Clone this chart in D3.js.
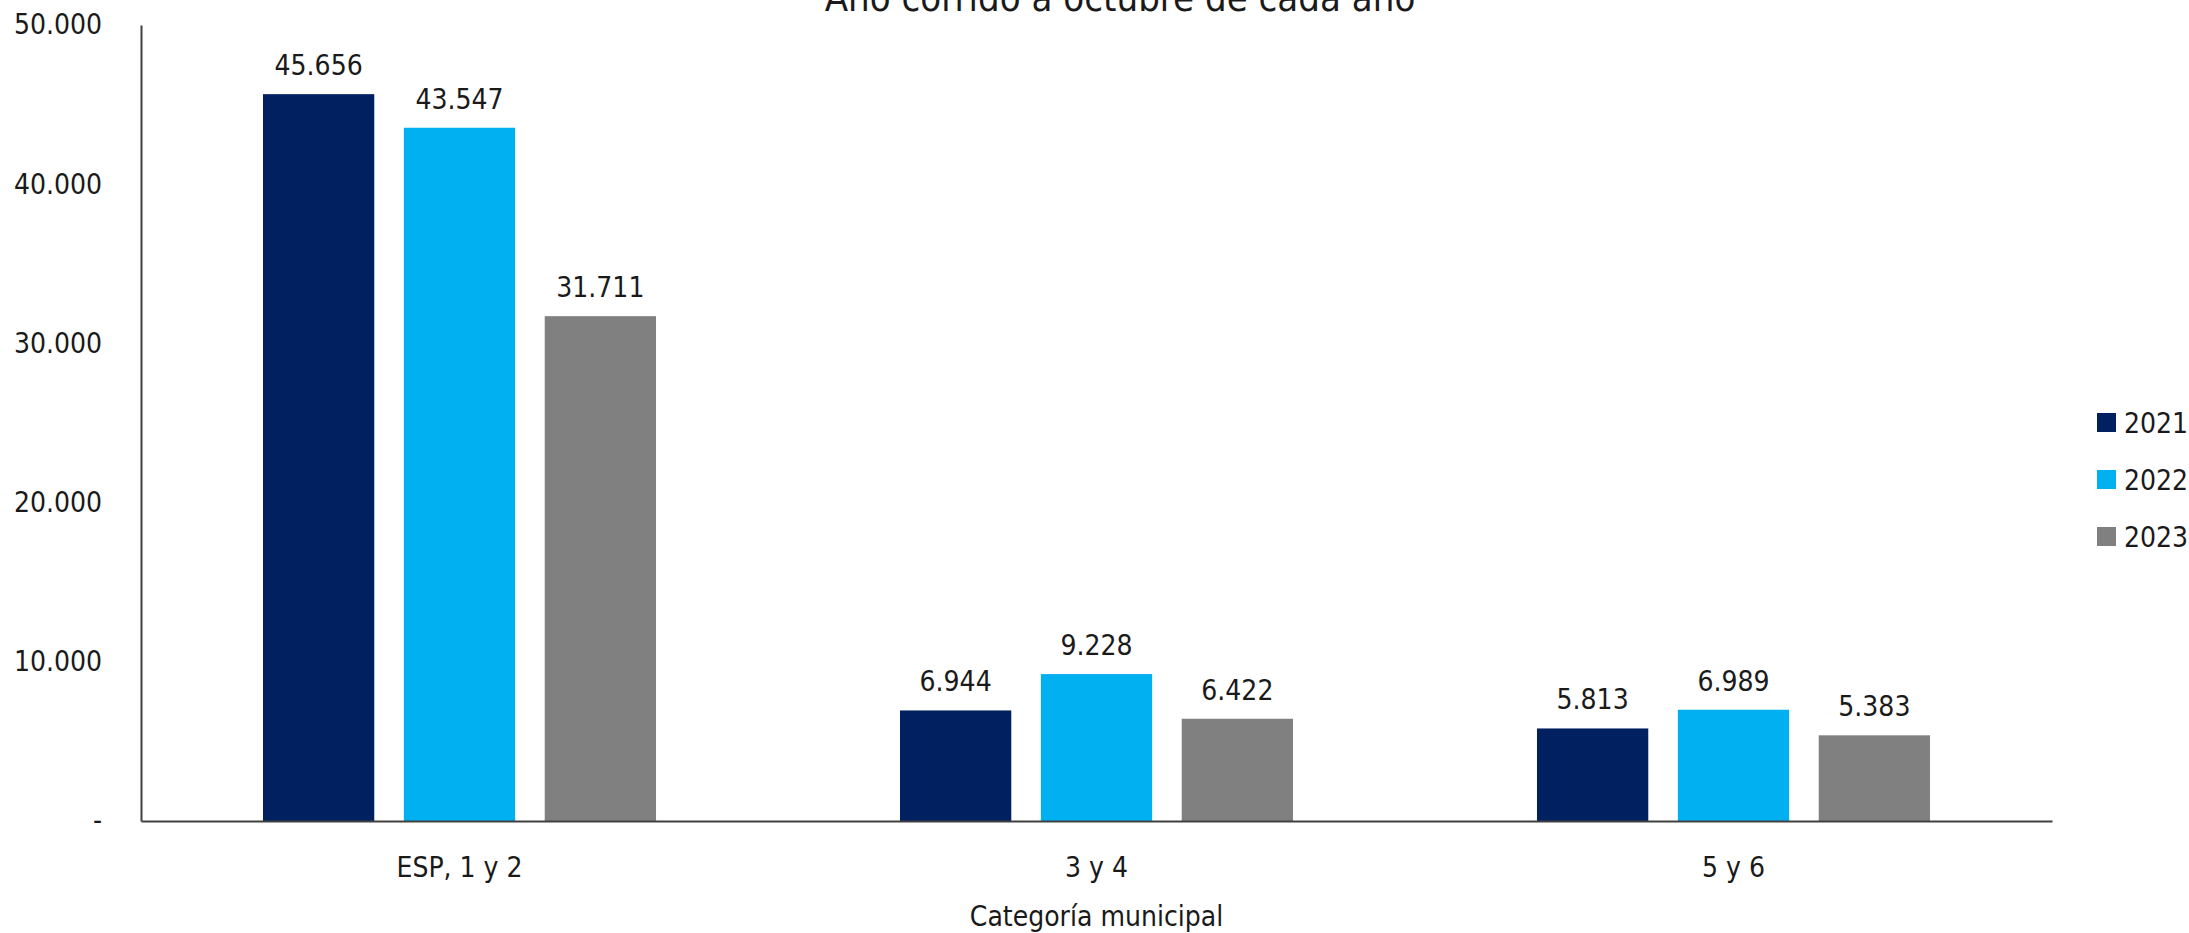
<!DOCTYPE html>
<html>
<head>
<meta charset="utf-8">
<script src="https://cdn.jsdelivr.net/npm/d3@7"></script>
<style>
  html, body { margin: 0; padding: 0; background: #ffffff; }
  svg text { font-family: "DejaVu Sans", sans-serif; font-stretch: condensed; fill: #1a1a1a; }
</style>
</head>
<body>
<svg id="chart" width="2189" height="933"></svg>
<script>
const categories = ["ESP, 1 y 2", "3 y 4", "5 y 6"];
const years = ["2021", "2022", "2023"];
const values2021 = [45656, 6944, 5813];
const values2022 = [43547, 9228, 6989];
const values2023 = [31711, 6422, 5383];
const yTicks = [0, 10000, 20000, 30000, 40000, 50000];
const colors = ["#002060", "#00B0F0", "#808080"];
const subtitle = "Año corrido a octubre de cada año";
const xTitle = "Categoría municipal";

const seriesValues = [values2021, values2022, values2023];
const data = categories.map((c, i) => ({
  cat: c,
  vals: years.map((y, j) => ({ year: y, value: seriesValues[j][i], color: colors[j] }))
}));

const svg = d3.select("#chart");
const mLeft = 141, mRight = 2052, mTop = 25, mBottom = 821;
const fs = "28px";

const loc = d3.formatLocale({ decimal: ",", thousands: ".", grouping: [3], currency: ["$", ""] });
const fmt = loc.format(",.0f");

const y = d3.scaleLinear().domain([0, 50000]).range([mBottom, mTop]);
const x0 = d3.scaleBand().domain(categories).range([mLeft, mRight]).padding(0);
const groupW = x0.bandwidth() * 0.617;
const x1 = d3.scaleBand().domain(years)
  .range([(x0.bandwidth() - groupW) / 2, (x0.bandwidth() + groupW) / 2])
  .paddingInner(0.21).paddingOuter(0);

// subtitle (partially cut off at top, as in the reference)
svg.append("text")
  .attr("x", 1120).attr("y", 11)
  .attr("text-anchor", "middle")
  .style("font-size", "38px")
  .text(subtitle);

// bars
const groups = svg.selectAll("g.grp").data(data).join("g")
  .attr("class", "grp")
  .attr("transform", d => `translate(${x0(d.cat)},0)`);

groups.selectAll("rect").data(d => d.vals).join("rect")
  .attr("x", d => x1(d.year))
  .attr("width", x1.bandwidth())
  .attr("y", d => y(d.value))
  .attr("height", d => y(0) - y(d.value))
  .attr("fill", d => d.color);

groups.selectAll("text.val").data(d => d.vals).join("text")
  .attr("class", "val")
  .attr("x", d => x1(d.year) + x1.bandwidth() / 2)
  .attr("y", d => y(d.value) - 19)
  .attr("text-anchor", "middle")
  .style("font-size", fs)
  .text(d => fmt(d.value));

const styleText = sel => sel.style("font-size", fs).attr("fill", "#1a1a1a")
  .style("font-family", "\"DejaVu Sans\", sans-serif").style("font-stretch", "condensed");

// y axis
const yAxis = d3.axisLeft(y).tickValues(yTicks).tickSize(0).tickPadding(39)
  .tickFormat(v => v === 0 ? "-" : fmt(v));
const ga = svg.append("g").attr("transform", `translate(${mLeft},0)`).call(yAxis);
ga.select(".domain").attr("stroke", "#404040").attr("stroke-width", 2);
styleText(ga.selectAll("text"));

// x axis
const xAxis = d3.axisBottom(x0).tickSize(0).tickPadding(36);
const gx = svg.append("g").attr("transform", `translate(0,${mBottom})`).call(xAxis);
gx.select(".domain").attr("stroke", "#404040").attr("stroke-width", 2);
styleText(gx.selectAll("text"));

// x axis title
svg.append("text")
  .attr("x", (mLeft + mRight) / 2).attr("y", 926)
  .attr("text-anchor", "middle")
  .style("font-size", fs)
  .text(xTitle);

// legend
const leg = svg.append("g").attr("transform", "translate(2097,413)");
const li = leg.selectAll("g").data(years).join("g")
  .attr("transform", (d, i) => `translate(0,${i * 57})`);
li.append("rect").attr("width", 19).attr("height", 19).attr("fill", (d, i) => colors[i]);
li.append("text").attr("x", 27).attr("y", 10).attr("dy", "0.36em")
  .style("font-size", fs).text(d => d);
</script>
</body>
</html>
